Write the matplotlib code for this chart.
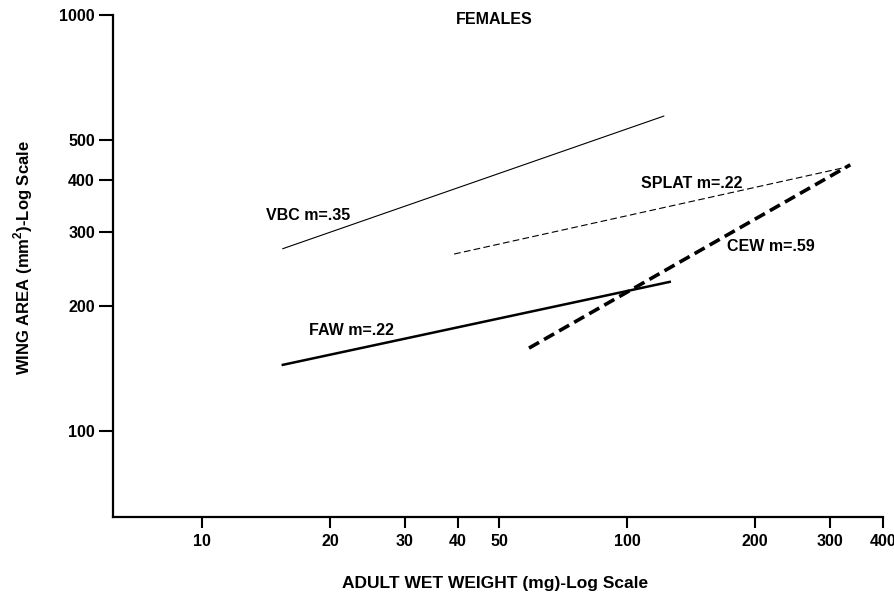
import matplotlib
matplotlib.use("Agg")
import matplotlib.pyplot as plt

plt.rcParams['font.family'] = ['Liberation Sans', 'DejaVu Sans']
plt.rcParams['font.weight'] = 'bold'
plt.rcParams['mathtext.fontset'] = 'custom'
plt.rcParams['mathtext.bf'] = 'Liberation Sans:bold'
plt.rcParams['mathtext.rm'] = 'Liberation Sans:bold'

# Regression lines (endpoints), weight in mg, wing area in mm^2
vbc_x = [15.5, 122]
vbc_y = [274, 571]
splat_x = [39.2, 330]
splat_y = [266, 431]
cew_x = [58.8, 335]
cew_y = [158, 436]
faw_x = [15.5, 126]
faw_y = [144, 228]

x_ticks = [10, 20, 30, 40, 50, 100, 200, 300, 400]
y_ticks = [100, 200, 300, 400, 500, 1000]

fig = plt.figure(figsize=(8.95, 5.97), dpi=100)
ax = fig.add_axes([0.1263, 0.134, 0.8603, 0.841])
ax.set_xscale('log')
ax.set_yscale('log')
ax.set_xlim(6.18, 400)
ax.set_ylim(62, 1000)

ax.plot(vbc_x, vbc_y, color='black', lw=0.8)
ax.plot(splat_x, splat_y, color='black', lw=0.8, dashes=(6, 3))
ax.plot(cew_x, cew_y, color='black', lw=2.6, dashes=(3.2, 1.6))
ax.plot(faw_x, faw_y, color='black', lw=1.8)

fs = 11.5
ax.text(14.15, 329, 'VBC m=.35', fontsize=fs, fontweight='bold', ha='left', va='center')
ax.text(108, 394, 'SPLAT m=.22', fontsize=fs, fontweight='bold', ha='left', va='center')
ax.text(172, 277, 'CEW m=.59', fontsize=fs, fontweight='bold', ha='left', va='center')
ax.text(17.9, 174, 'FAW m=.22', fontsize=fs, fontweight='bold', ha='left', va='center')
ax.text(0.495, 0.99, 'FEMALES', transform=ax.transAxes, fontsize=fs, fontweight='bold',
        ha='center', va='center')

ax.set_xticks(x_ticks)
ax.set_xticklabels([str(v) for v in x_ticks])
ax.set_yticks(y_ticks)
ax.set_yticklabels([str(v) for v in y_ticks])
ax.minorticks_off()
ax.tick_params(axis='both', which='major', direction='out', width=1.5, labelsize=fs)
ax.tick_params(axis='x', length=8, pad=4)
ax.tick_params(axis='y', length=10, pad=3)
for lbl in ax.get_xticklabels() + ax.get_yticklabels():
    lbl.set_fontweight('bold')

ax.spines['top'].set_visible(False)
ax.spines['right'].set_visible(False)
ax.spines['left'].set_linewidth(1.6)
ax.spines['bottom'].set_linewidth(1.6)

ax.set_xlabel('ADULT WET WEIGHT (mg)-Log Scale', fontsize=12.5, fontweight='bold')
ax.xaxis.set_label_coords(0.496, -0.118)
ax.set_ylabel('WING AREA (mm$^{\\mathbf{2}}$)-Log Scale', fontsize=12, fontweight='bold')
ax.yaxis.set_label_coords(-0.102, 0.516)

fig.savefig('out.png', dpi=100)
